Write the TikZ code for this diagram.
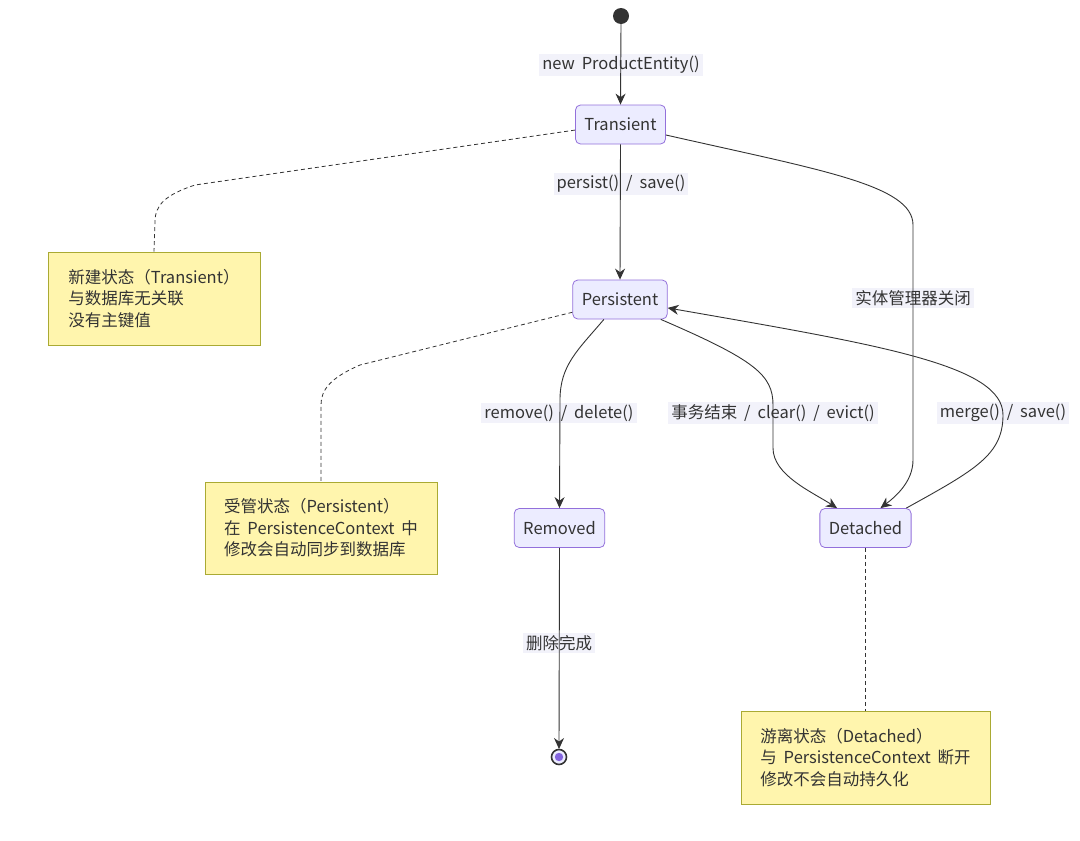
\documentclass[tikz,border=0pt]{standalone}
\usepackage{fontspec}
\setmainfont{Noto Sans CJK SC}
\usepackage{xcolor}
\usepackage{tikz}
\usetikzlibrary{arrows.meta, positioning}
\definecolor{stfill}{HTML}{ECECFF}
\definecolor{stline}{HTML}{9370DB}
\definecolor{ink}{HTML}{333333}
\definecolor{notefill}{HTML}{FFF5AD}
\definecolor{noteline}{HTML}{AAAA33}
\definecolor{lblfill}{HTML}{F2F2FA}
\newcommand{\diagfont}{\fontsize{16.5}{21.5}\selectfont\spaceskip=0.42em\relax}

\begin{document}
\begin{tikzpicture}[x=1pt, y=-1pt,
  every node/.style={font=\diagfont, text=ink},
  state/.style={draw=stline, fill=stfill, rounded corners=5pt, line width=0.8pt,
                minimum height=39pt, inner xsep=9pt},
  note/.style={draw=noteline, fill=notefill, line width=0.8pt, align=left,
               minimum height=93pt},
  lbl/.style={fill=lblfill, inner xsep=3pt, inner ysep=2pt},
  trans/.style={draw=ink, line width=0.9pt, -{Stealth[length=11pt, width=10pt]}},
  link/.style={draw=ink, line width=0.8pt, dash pattern=on 4pt off 3pt}
]
  \useasboundingbox (0,0) rectangle (1080,841);

  % start and end states
  \fill[ink] (621,16) circle (8);
  \coordinate (start) at (621,24);
  \draw[ink, line width=1.6pt, fill=stfill] (559,757) circle (7.5);
  \fill[stline!90!blue] (559,757) circle (4.2);
  \coordinate (finish) at (559,749);

  % states
  \node[state] (tr)  at (620.5,124.5) {Transient};
  \node[state] (pe)  at (620,299.5)   {Persistent};
  \node[state] (rm)  at (559.5,528)   {Removed};
  \node[state] (det) at (865.5,528)   {Detached};

  % notes
  \node[note, minimum width=212pt] (n1) at (154,298.5)
    {新建状态（Transient）\\与数据库无关联\\没有主键值};
  \node[note, minimum width=232pt, minimum height=92pt] (n2) at (321,528)
    {受管状态（Persistent）\\在 PersistenceContext 中\\修改会自动同步到数据库};
  \node[note, minimum width=249pt] (n3) at (865.5,757.5)
    {游离状态（Detached）\\与 PersistenceContext 断开\\修改不会自动持久化};

  % transition labels
  \node[lbl] (l1) at (621,65)  {new ProductEntity()};
  \node[lbl] (l2) at (621,184) {persist() / save()};
  \node[lbl] (l3) at (913,298) {实体管理器关闭};
  \node[lbl] (l4) at (559,413) {remove() / delete()};
  \node[lbl] (l5) at (773,413) {事务结束 / clear() / evict()};
  \node[lbl] (l6) at (1003,413) {merge() / save()};
  \node[lbl] (l7) at (559,643) {删除完成};

  % transitions
  \draw[trans] (start) -- (tr.north);
  \draw[trans] (tr.south) -- (pe.north);
  \draw[trans] (tr.-13) .. controls (820,170) and (913,185) .. (913,225)
    -- (913,460) .. controls (913,482) and (895,497) .. (det.53);
  \draw[trans] (pe.231) .. controls (578,350) and (560,365) .. (560,400)
    -- (rm.north);
  \draw[trans] (pe.-26) .. controls (755,360) and (773,375) .. (773,405)
    -- (773,448) .. controls (773,475) and (812,492) .. (det.145);
  \draw[trans] (det.26) .. controls (975,470) and (1003,455) .. (1003,415)
    .. controls (1003,365) and (880,345) .. (pe.-10);
  \draw[trans] (rm.south) -- (finish);

  % note links
  \draw[link] (tr.187) -- (195,185) .. controls (165,195) and (155,205) .. (155,222)
    -- (n1.north);
  \draw[link] (pe.195) -- (360,365) .. controls (330,378) and (321,390) .. (321,405)
    -- (n2.north);
  \draw[link] (det.south) -- (n3.north);
\end{tikzpicture}
\end{document}
